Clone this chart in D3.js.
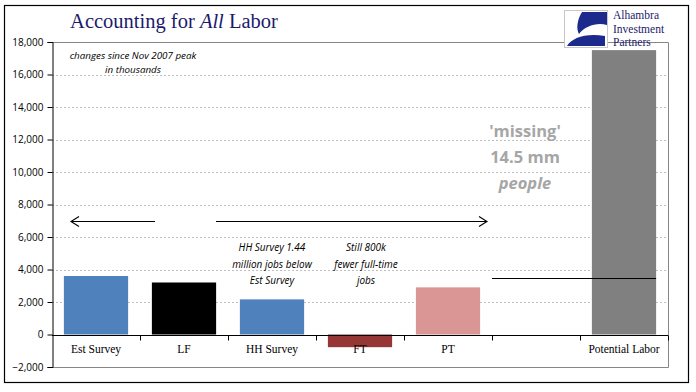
<!DOCTYPE html>
<html>
<head>
<meta charset="utf-8">
<script src="https://cdn.jsdelivr.net/npm/d3@7"></script>
<style>
  body { margin: 0; background: #fff; }
  svg text { font-family: "Open Sans", "Noto Sans", sans-serif; }
</style>
</head>
<body>
<svg id="chart" width="696" height="392"></svg>
<script>
/*** DATA ***/
const categories = ['Est Survey', 'LF', 'HH Survey', 'FT', 'PT', '', 'Potential Labor'];
const values     = [3600, 3200, 2160, -780, 2900, null, 17500];
const barColors  = ['#4f81bd', '#000000', '#4f81bd', '#953735', '#d99694', 'none', '#808080'];
const yTicks     = [-2000, 0, 2000, 4000, 6000, 8000, 10000, 12000, 14000, 16000, 18000];
const missingLevel = 3500;   // line drawn from PT over to Potential Labor

/*** DIMENSIONS ***/
const plot = {left: 52, right: 668, top: 42, bottom: 367};
const svg = d3.select('#chart');

// outer frame
svg.append('rect')
    .attr('x', 4.5).attr('y', 5.5).attr('width', 684).attr('height', 377)
    .attr('fill', 'none').attr('stroke', '#000').attr('stroke-width', 1.2);

/*** SCALES ***/
const slots = categories.map((c, i) => i);
const x = d3.scaleBand()
    .domain(slots)
    .range([plot.left, plot.right])
    .paddingInner(0.27)
    .paddingOuter(0.135);
const step = x.step();
const mid = i => x(i) + x.bandwidth() / 2;

const y = d3.scaleLinear()
    .domain([-2000, 18000])
    .range([plot.bottom, plot.top]);

// grid (dashed)
svg.append('g')
  .selectAll('line')
  .data(yTicks.filter(d => d !== 0 && d !== -2000 && d !== 18000))
  .enter().append('line')
    .attr('x1', plot.left).attr('x2', plot.right)
    .attr('y1', d => Math.round(y(d)) + 0.5).attr('y2', d => Math.round(y(d)) + 0.5)
    .attr('stroke', '#bfbfbf').attr('stroke-dasharray', '2,2');

// plot area border (top, right, bottom)
svg.append('path')
    .attr('d', `M${plot.left},${Math.round(y(18000)) + 0.5}H${plot.right + 0.5}V${Math.round(y(-2000)) + 0.5}H${plot.left}`)
    .attr('fill', 'none').attr('stroke', '#868686');

/*** BARS ***/
svg.append('g')
  .selectAll('rect')
  .data(values.map((v, i) => ({i, v})).filter(d => d.v !== null))
  .enter().append('rect')
    .attr('x', d => x(d.i))
    .attr('width', x.bandwidth())
    .attr('y', d => y(Math.max(0, d.v)))
    .attr('height', d => Math.abs(y(d.v) - y(0)))
    .attr('fill', d => barColors[d.i]);

/*** AXES ***/
const yAxis = svg.append('g')
    .attr('transform', `translate(${plot.left + 0.5},0)`)
    .call(d3.axisLeft(y).tickValues(yTicks).tickFormat(d3.format(',')).tickSize(5).tickPadding(4));
yAxis.select('.domain').attr('stroke', '#000');
yAxis.selectAll('text').style('font-size', '10px').attr('fill', '#000');

// zero line with category boundary ticks
const zeroY = Math.round(y(0)) + 0.5;
svg.append('line')
    .attr('x1', plot.left).attr('x2', plot.right)
    .attr('y1', zeroY).attr('y2', zeroY)
    .attr('stroke', '#000');
svg.append('g')
  .selectAll('line')
  .data(slots.slice(1).concat([categories.length]))
  .enter().append('line')
    .attr('x1', i => Math.round(plot.left + i * step) + 0.5)
    .attr('x2', i => Math.round(plot.left + i * step) + 0.5)
    .attr('y1', zeroY).attr('y2', zeroY + 5)
    .attr('stroke', '#000');

// category labels
svg.append('g')
  .selectAll('text')
  .data(categories)
  .enter().append('text')
    .attr('x', (d, i) => mid(i))
    .attr('y', 353)
    .attr('text-anchor', 'middle')
    .style('font-family', '"Liberation Serif", "Times New Roman", serif')
    .style('font-size', '11.5px')
    .text(d => d);

/*** TITLE ***/
const title = svg.append('text')
    .attr('x', 174).attr('y', 28)
    .attr('text-anchor', 'middle')
    .attr('fill', '#1c1a6b')
    .style('font-family', '"Liberation Serif", "Times New Roman", serif')
    .style('font-size', '20.5px');
title.append('tspan').text('Accounting for ');
title.append('tspan').style('font-style', 'italic').text('All');
title.append('tspan').text(' Labor');

/*** ANNOTATIONS ***/
function lines(textLines, cx, y0, dy, style) {
  const t = svg.append('text')
      .attr('text-anchor', 'middle');
  Object.entries(style).forEach(([k, v]) => t.style(k, v));
  textLines.forEach((s, i) => {
    t.append('tspan').attr('x', cx).attr('y', y0 + i * dy).text(s);
  });
  return t;
}

lines(['changes since Nov 2007 peak', 'in thousands'], 133, 59, 14,
      {'font-style': 'italic', 'font-size': '9.8px'});

lines(['HH Survey  1.44', 'million jobs below', 'Est Survey'], mid(2), 251, 16.5,
      {'font-style': 'italic', 'font-size': '10px'});

lines(['Still 800k', 'fewer full-time', 'jobs'], mid(3) + 6, 251, 16.5,
      {'font-style': 'italic', 'font-size': '10px'});

lines(["'missing'", '14.5 mm'], 525, 137, 26,
      {'font-weight': 'bold', 'font-size': '16.5px', 'fill': '#a6a6a6'});
lines(['people'], 525, 189, 0,
      {'font-weight': 'bold', 'font-style': 'italic', 'font-size': '16.5px', 'fill': '#a6a6a6'});

// arrows
const arrowY = 221.5;
svg.append('path')
    .attr('d', `M71,${arrowY}H155M79,${arrowY - 5}L71,${arrowY}L79,${arrowY + 5}`)
    .attr('fill', 'none').attr('stroke', '#000').attr('stroke-width', 1.1);
svg.append('path')
    .attr('d', `M216,${arrowY}H487M479,${arrowY - 5}L487,${arrowY}L479,${arrowY + 5}`)
    .attr('fill', 'none').attr('stroke', '#000').attr('stroke-width', 1.1);

// level line toward Potential Labor
svg.append('line')
    .attr('x1', 492).attr('x2', x(6) + x.bandwidth())
    .attr('y1', Math.round(y(missingLevel)) + 0.5).attr('y2', Math.round(y(missingLevel)) + 0.5)
    .attr('stroke', '#000');

/*** LOGO ***/
const logo = svg.append('g');
logo.append('rect')
    .attr('x', 556).attr('y', 8).attr('width', 130).attr('height', 34)
    .attr('fill', '#fff');
logo.append('rect')
    .attr('x', 564.5).attr('y', 10.5).attr('width', 43).attr('height', 37)
    .attr('fill', '#fff').attr('stroke', '#c8c8c8');
logo.append('path')
    .attr('d', 'M582,12 L607,12 L607,25 C597,22 585,26 579,34 C576,29 577,20 582,12 Z')
    .attr('fill', '#1b2a8c');
logo.append('path')
    .attr('d', 'M567,46 C572,38 585,33 605,36 L605,46 Z')
    .attr('fill', '#1b2a8c');
lines(['Alhambra', 'Investment', 'Partners'], 613, 19, 13.5,
      {'font-family': '"Liberation Serif", "Times New Roman", serif', 'font-size': '11.5px', 'fill': '#1c1a6b'})
  .attr('text-anchor', 'start');
</script>
</body>
</html>
